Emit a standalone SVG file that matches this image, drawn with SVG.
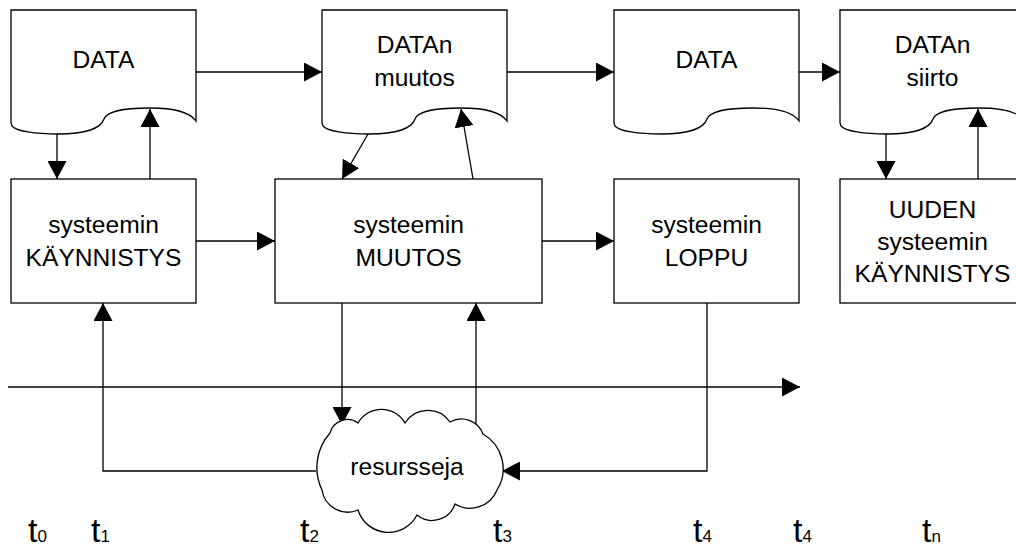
<svg xmlns="http://www.w3.org/2000/svg" width="1016" height="550" viewBox="0 0 1016 550">
<style>
.shape{fill:#fff;stroke:#000;stroke-width:1.3}
.conn{fill:none;stroke:#000;stroke-width:1.3}
.lbl{font-family:"Liberation Sans",Arial,sans-serif;font-size:24.6px;fill:#000;text-anchor:middle}
.t{font-family:"Liberation Sans",Arial,sans-serif;font-size:34px;fill:#000}
.sub{font-size:17px}
</style>
<defs>
<marker id="ah" markerUnits="userSpaceOnUse" markerWidth="18" markerHeight="19" refX="18" refY="9.5" orient="auto" viewBox="0 0 18 19">
<path d="M0,0 L18,9.5 L0,19 Z" fill="#000"/>
</marker>
<path id="doc" d="M0,10 H185 V121 C178,111 160,108 139,108 C116,108 96,111 93,119 C90,128 75,134 47,134 C24,134 5,131 1,126 L0,123 Z"/>
</defs>

<g id="data1"><use href="#doc" x="11" class="shape"/><text class="lbl" x="103.5" y="68">DATA</text></g>
<g id="data2"><use href="#doc" x="322" class="shape"/><text class="lbl" x="414.5" y="53">DATAn</text><text class="lbl" x="414.5" y="86">muutos</text></g>
<g id="data3"><use href="#doc" x="614" class="shape"/><text class="lbl" x="706.5" y="68">DATA</text></g>
<g id="data4"><use href="#doc" x="840" class="shape"/><text class="lbl" x="932.5" y="53">DATAn</text><text class="lbl" x="932.5" y="86">siirto</text></g>

<g id="box1"><rect class="shape" x="11" y="179" width="185" height="124"/><text class="lbl" x="103.5" y="233">systeemin</text><text class="lbl" x="103.5" y="266">KÄYNNISTYS</text></g>
<g id="box2"><rect class="shape" x="275" y="179" width="267" height="124"/><text class="lbl" x="408.5" y="233">systeemin</text><text class="lbl" x="408.5" y="266">MUUTOS</text></g>
<g id="box3"><rect class="shape" x="614" y="179" width="185" height="124"/><text class="lbl" x="706.5" y="233">systeemin</text><text class="lbl" x="706.5" y="266">LOPPU</text></g>
<g id="box4"><rect class="shape" x="840" y="179" width="185" height="124"/><text class="lbl" x="932.5" y="218">UUDEN</text><text class="lbl" x="932.5" y="250">systeemin</text><text class="lbl" x="932.5" y="282">KÄYNNISTYS</text></g>

<g id="connectors">
<path class="conn" d="M8,387 H800" marker-end="url(#ah)"/>
<path class="conn" d="M57,134 V179" marker-end="url(#ah)"/>
<path class="conn" d="M150,179 V109" marker-end="url(#ah)"/>
<path class="conn" d="M196,72 H322" marker-end="url(#ah)"/>
<path class="conn" d="M368,134 L342,179" marker-end="url(#ah)"/>
<path class="conn" d="M473,179 L461,109" marker-end="url(#ah)"/>
<path class="conn" d="M507,72 H614" marker-end="url(#ah)"/>
<path class="conn" d="M799,72 H840" marker-end="url(#ah)"/>
<path class="conn" d="M886,134 V179" marker-end="url(#ah)"/>
<path class="conn" d="M978,179 V109" marker-end="url(#ah)"/>
<path class="conn" d="M196,241 H275" marker-end="url(#ah)"/>
<path class="conn" d="M542,241 H614" marker-end="url(#ah)"/>
<path class="conn" d="M342,303 V425" marker-end="url(#ah)"/>
<path class="conn" d="M476,428 V303" marker-end="url(#ah)"/>
<path class="conn" d="M316,471 H103 V303" marker-end="url(#ah)"/>
<path class="conn" d="M707,303 V471 H502" marker-end="url(#ah)"/>
</g>

<g id="cloud">
<path class="shape" d="M322,490 A52,52 0 0 1 330,433 A18,18 0 0 1 358,423 A27,27 0 0 1 405,423 A27,27 0 0 1 450,422 A23,23 0 0 1 483,434 A40,40 0 0 1 497,490 A29,29 0 0 1 455,504 A24,24 0 0 1 417,515 A32,32 0 0 1 358,510 A26,26 0 0 1 322,490 Z"/>
<text class="lbl" x="407" y="475">resursseja</text>
</g>

<g id="timelabels">
<text class="t" x="28" y="542">t<tspan class="sub">0</tspan></text>
<text class="t" x="91" y="542">t<tspan class="sub">1</tspan></text>
<text class="t" x="300" y="542">t<tspan class="sub">2</tspan></text>
<text class="t" x="493" y="542">t<tspan class="sub">3</tspan></text>
<text class="t" x="693" y="542">t<tspan class="sub">4</tspan></text>
<text class="t" x="793" y="542">t<tspan class="sub">4</tspan></text>
<text class="t" x="922" y="542">t<tspan class="sub">n</tspan></text>
</g>
</svg>
